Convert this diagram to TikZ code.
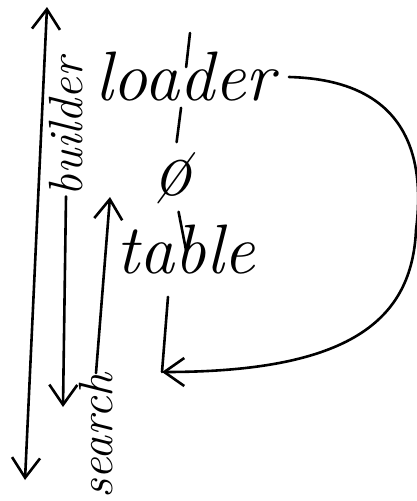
\documentclass[tikz,border=0pt]{standalone}
\usetikzlibrary{arrows.meta}

\begin{document}
\begin{tikzpicture}[
  x=1pt, y=-1pt,
  >={Straight Barb[length=20pt,width=28pt]},
  word/.style={
    inner sep=0pt,
    font=\itshape\fontsize{70}{70}\selectfont
  },
  side/.style={word, rotate=90, font=\itshape\fontsize{48}{48}\selectfont},
  line/.style={draw, line width=2.6pt, line cap=round, line join=round}
]
\useasboundingbox (0,0) rectangle (416,501);

\node[word] (loader) at (185,77) {loader};
\node[word, font=\itshape\fontsize{80}{80}\selectfont] (phi) at (172,178) {\o};
\node[word] (table) at (186,250) {table};
\node[side] (builder) at (66,127) {builder};
\node[side] (search) at (96,436) {search};

\coordinate (loadertop) at (190,33);
\coordinate (tableend) at (162,372);
\coordinate (buildend) at (63,407);
\coordinate (searchend) at (110,197);
\coordinate (longtop) at (47,7);
\coordinate (longbottom) at (25,480);

\draw[line, <->] (longtop) -- (longbottom);
\draw[line, ->] (builder.west) -- (buildend);
\draw[line, ->] (search.east) -- (searchend);

\draw[line, shorten >=10pt] (loadertop) -- (loader.center);
\draw[line, shorten <=6pt, shorten >=10pt] (loader) -- (phi);
\draw[line, shorten <=8pt] (phi) -- (table.center);
\draw[line] ([xshift=-18pt, yshift=-22pt]table.south) -- (tableend);

\draw[line, ->] ([xshift=14pt]loader.east) .. controls (410,80) and (425,160) .. (416,230)
  .. controls (412,320) and (350,372) .. (tableend);
\end{tikzpicture}
\end{document}
